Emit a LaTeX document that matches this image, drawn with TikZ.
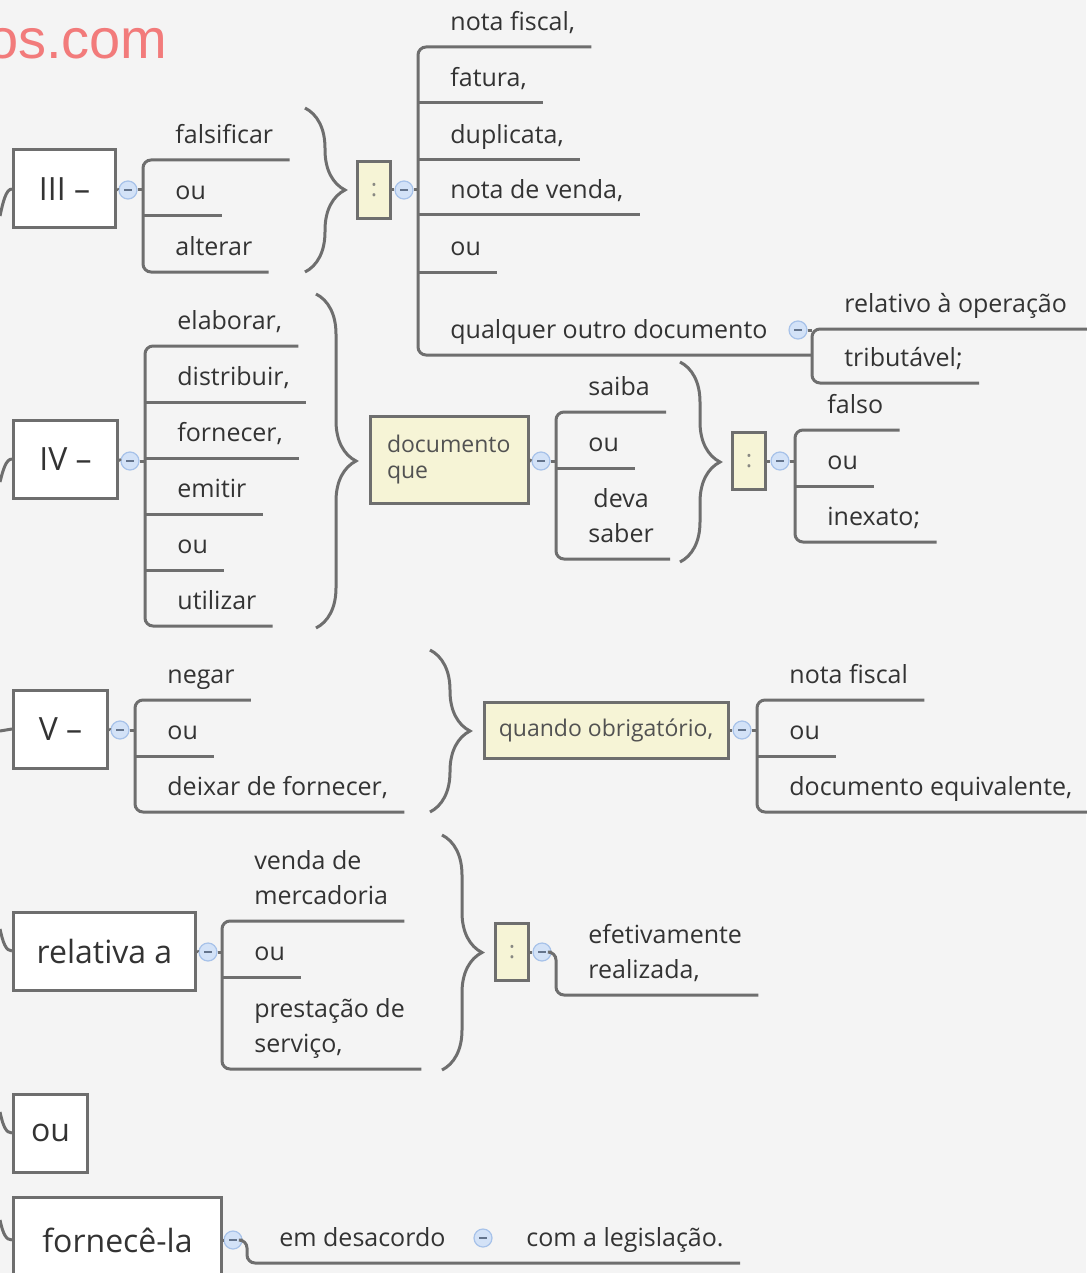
\documentclass[tikz,border=0pt]{standalone}
\usepackage{fontspec}
\setmainfont{Open Sans}
\newfontfamily\marcafonte{Liberation Sans}
\usetikzlibrary{decorations.pathreplacing}

\definecolor{fundo}{HTML}{F4F4F4}
\definecolor{cinza}{HTML}{6E6E6E}
\definecolor{texto}{HTML}{333333}
\definecolor{creme}{HTML}{F6F4D6}
\definecolor{azul}{HTML}{D3E2F7}
\definecolor{azulb}{HTML}{A7C2E9}
\definecolor{marca}{HTML}{F27B7B}

\newcommand{\linhas}[3]{\begin{tabular}[b]{@{}#1@{}}#2\\#3\end{tabular}}

\tikzset{
  linha/.style={draw=cinza, line width=1.5pt, rounded corners=4pt},
  chave/.style={draw=cinza, line width=1.5pt, decorate, decoration={brace, amplitude=20pt}},
  topico/.style={draw=cinza, fill=white, line width=1.5pt, anchor=west, minimum height=39pt, inner sep=0pt, text=texto, font=\fontsize{16}{19}\selectfont},
  caixa/.style={draw=cinza, fill=creme, line width=1.5pt, text=texto!85!white, font=\fontsize{11.5}{13}\selectfont},
  dois/.style={caixa, minimum width=16.5pt, minimum height=28.5pt, inner sep=0pt, text=cinza!80!creme, font=\fontsize{12}{13}\selectfont},
  folha/.style={anchor=south west, inner xsep=8pt, inner ysep=5pt, text depth=3pt, text=texto, font=\fontsize{12.5}{17.5}\selectfont, execute at begin node={\hspace*{8pt}}},
  xp/.style={circle, minimum size=9pt, inner sep=0pt, fill=azul, draw=azulb, line width=0.6pt,
    path picture={\draw[azulb!60!black, line width=0.7pt] ([xshift=-2pt]path picture bounding box.center) -- ([xshift=2pt]path picture bounding box.center);}}
}

\begin{document}
\begin{tikzpicture}[x=0.5pt,y=-0.5pt]
		\fill[fundo] (0,0) rectangle (1086,1273);
		\useasboundingbox (0,0) rectangle (1086,1273);
		\node[anchor=base east, inner sep=0pt, text=marca, font=\marcafonte\fontsize{28}{28}\selectfont] (marca) at (168,59) {os.com};

		%III
		\coordinate (p3) at (0,216);
		\node[topico, minimum width=51pt] (b3) at (12,189) {III –};
		\node[xp] (x3) at (128,190) {};
		\node[folha] (c31) at (143,160) {falsificar};
		\node[folha] (c32) at (143,216) {ou};
		\node[folha] (c33) at (143,272) {alterar};
		\draw[linha] (p3) .. controls +(3,-14) and +(-6,0) .. (b3.west);
		\draw[linha] (b3.east) -- (x3.west);
		\draw[linha] (x3.east) -- (x3.east -| c31.south west);
		\draw[linha] (c31.south east) -- (c31.south west) -- (c33.south west) -- (c33.south east);
		\draw[linha] (c32.south west) -- (c32.south east);
		\draw[chave] (305,108) -- (305,272);
		\node[dois] (k1) at (374,190) {:};
		\node[xp] (x31) at (404,190) {};
		\node[folha] (n1) at (418,47) {nota fiscal,};
		\node[folha] (n2) at (418,103) {fatura,};
		\node[folha] (n3) at (418,160) {duplicata,};
		\node[folha] (n4) at (418,215) {nota de venda,};
		\node[folha] (n5) at (418,272) {ou};
		\node[folha] (n6) at (418,355) {qualquer outro documento};
		\node[xp] (xq) at (798,330) {};
		\node[folha] (r1) at (812,329) {relativo à operação};
		\node[folha] (r2) at (812,383) {tributável;};
		\draw[linha] (k1.east) -- (x31.west);
		\draw[linha] (x31.east) -- (x31.east -| n1.south west);
		\draw[linha] (n1.south east) -- (n1.south west) -- (n6.south west) -- (n6.south west -| r1.south west);
		\foreach \n in {n2,n3,n4,n5}
			\draw[linha] (\n.south west) -- (\n.south east);
		\draw[linha] (xq.east) -- (xq.east -| r1.south west);
		\draw[linha] ([xshift=10pt]r1.south east) -- (r1.south west) -- (r2.south west) -- (r2.south east);

		%IV
		\coordinate (p4) at (0,482);
		\node[topico, minimum width=52pt] (b4) at (12,459) {IV –};
		\node[xp] (x4) at (130,461) {};
		\node[folha] (c41) at (145,346) {elaborar,};
		\node[folha] (c42) at (145,402) {distribuir,};
		\node[folha] (c43) at (145,458) {fornecer,};
		\node[folha] (c44) at (145,514) {emitir};
		\node[folha] (c45) at (145,570) {ou};
		\node[folha] (c46) at (145,626) {utilizar};
		\draw[linha] (p4) .. controls +(3,-12) and +(-6,0) .. (b4.west);
		\draw[linha] (b4.east) -- (x4.west);
		\draw[linha] (x4.east) -- (x4.east -| c41.south west);
		\draw[linha] (c41.south east) -- (c41.south west) -- (c46.south west) -- (c46.south east);
		\foreach \n in {c42,c43,c44,c45}
			\draw[linha] (\n.south west) -- (\n.south east);
		\draw[chave] (316,294) -- (316,628);
		\node[caixa, text width=62pt, inner xsep=8.5pt, minimum height=43.5pt, align=left] (dq) at (449,460) {documento\\que};
		\node[xp] (xdq) at (541,461) {};
		\node[folha] (d1) at (556,412) {saiba};
		\node[folha] (d2) at (556,468) {ou};
		\node[folha] (d3) at (556,559) {\linhas{c}{deva}{saber}};
		\draw[linha] (dq.east) -- (xdq.west);
		\draw[linha] (xdq.east) -- (xdq.east -| d1.south west);
		\draw[linha] (d1.south east) -- (d1.south west) -- (d3.south west) -- (d3.south east);
		\draw[linha] (d2.south west) -- (d2.south east);
		\draw[chave] (680,362) -- (680,562);
		\node[dois] (k2) at (749,461) {:};
		\node[xp] (xk2) at (780,461) {};
		\node[folha] (f1) at (795,430) {falso};
		\node[folha] (f2) at (795,486) {ou};
		\node[folha] (f3) at (795,542) {inexato;};
		\draw[linha] (k2.east) -- (xk2.west);
		\draw[linha] (xk2.east) -- (xk2.east -| f1.south west);
		\draw[linha] (f1.south east) -- (f1.south west) -- (f3.south west) -- (f3.south east);
		\draw[linha] (f2.south west) -- (f2.south east);

		%V
		\coordinate (p5) at (0,731);
		\node[topico, minimum width=47pt] (b5) at (12,729) {V –};
		\node[xp] (x5) at (120,730) {};
		\node[folha] (v1) at (135,700) {negar};
		\node[folha] (v2) at (135,756) {ou};
		\node[folha] (v3) at (135,812) {deixar de fornecer,};
		\draw[linha] (p5) -- (b5.west);
		\draw[linha] (b5.east) -- (x5.west);
		\draw[linha] (x5.east) -- (x5.east -| v1.south west);
		\draw[linha] (v1.south east) -- (v1.south west) -- (v3.south west) -- (v3.south east);
		\draw[linha] (v2.south west) -- (v2.south east);
		\draw[chave] (430,650) -- (430,812);
		\node[caixa, minimum width=122pt, minimum height=28pt, inner sep=0pt] (qo) at (606,730) {quando obrigatório,};
		\node[xp] (xqo) at (742,730) {};
		\node[folha] (q1) at (757,700) {nota fiscal};
		\node[folha] (q2) at (757,756) {ou};
		\node[folha] (q3) at (757,812) {documento equivalente,};
		\draw[linha] (qo.east) -- (xqo.west);
		\draw[linha] (xqo.east) -- (xqo.east -| q1.south west);
		\draw[linha] (q1.south east) -- (q1.south west) -- (q3.south west) -- (q3.south east);
		\draw[linha] (q2.south west) -- (q2.south east);

		%relativa a
		\coordinate (p6) at (0,929);
		\node[topico, minimum width=91pt] (b6) at (12,951) {relativa a};
		\node[xp] (x6) at (208,952) {};
		\node[folha] (w1) at (222,921) {\linhas{l}{venda de}{mercadoria}};
		\node[folha] (w2) at (222,977) {ou};
		\node[folha] (w3) at (222,1069) {\linhas{l}{prestação de}{serviço,}};
		\draw[linha] (p6) .. controls +(3,14) and +(-6,0) .. (b6.west);
		\draw[linha] (b6.east) -- (x6.west);
		\draw[linha] (x6.east) -- (x6.east -| w1.south west);
		\draw[linha] (w1.south east) -- (w1.south west) -- (w3.south west) -- (w3.south east);
		\draw[linha] (w2.south west) -- (w2.south east);
		\draw[chave] (442,835) -- (442,1070);
		\node[dois] (k3) at (512,952) {:};
		\node[xp] (xk3) at (542,952) {};
		\node[folha] (e1) at (556,995) {\linhas{l}{efetivamente}{realizada,}};
		\draw[linha] (k3.east) -- (xk3.west);
		\draw[linha] (xk3.east) -- (xk3.east -| e1.south west) -- (e1.south west) -- (e1.south east);

		%ou
		\coordinate (p7) at (0,1112);
		\node[topico, minimum width=37pt] (b7) at (12,1133) {ou};
		\draw[linha] (p7) .. controls +(3,14) and +(-6,0) .. (b7.west);

		%fornece-la
		\coordinate (p8) at (0,1220);
		\node[topico, minimum width=104pt, minimum height=43pt] (b8) at (12,1240) {fornecê-la};
		\node[xp] (x8) at (233,1240) {};
		\node[folha] (g1) at (247,1263) {em desacordo};
		\node[xp] (xg) at (483,1238) {};
		\node[folha] (g2) at (494,1263) {com a legislação.};
		\draw[linha] (p8) .. controls +(3,14) and +(-6,0) .. (b8.west);
		\draw[linha] (b8.east) -- (x8.west);
		\draw[linha] (x8.east) -- (x8.east -| g1.south west) -- (g1.south west) -- (g2.south east);
	\end{tikzpicture}
\end{document}
